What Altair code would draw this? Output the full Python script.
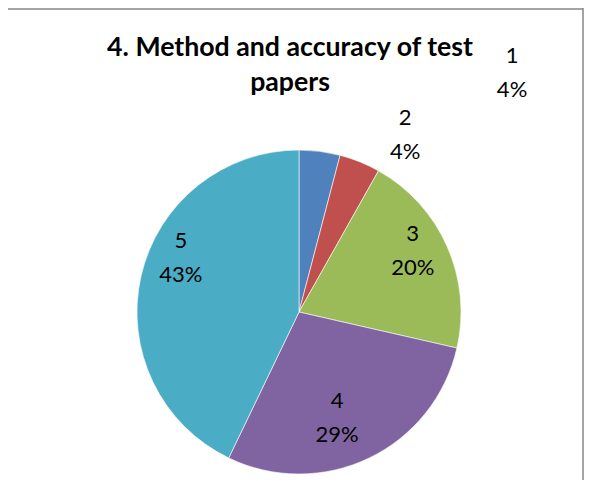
import altair as alt
import pandas as pd

# Data
categories = ["1", "2", "3", "4", "5"]
counts = [2, 2, 10, 14, 21]
colors = ["#4F81BD", "#C0504D", "#9BBB59", "#8064A2", "#4BACC6"]
title_lines = ["4. Method and accuracy of test", "papers"]

# Label layout (Excel "best fit" placement): radius and angle nudge per slice
label_radius = [320, 206, 129, 113, 130]
label_nudge_deg = [34.4, 9.0, -4.3, 6.0, 11.7]

W, H = 576, 472
CX, CY, R = 291, 304, 162
LH = 34

df = pd.DataFrame({
    "cat": categories,
    "count": counts,
    "idx": list(range(len(categories))),
    "lr": label_radius,
    "nudge": label_nudge_deg,
})

base = alt.Chart(df)

pie = base.mark_arc(outerRadius=R, stroke="#ffffff", strokeWidth=0.6).encode(
    theta=alt.Theta("count:Q", stack=True),
    color=alt.Color("cat:N", scale=alt.Scale(domain=categories, range=colors), legend=None),
    order=alt.Order("idx:Q"),
    x=alt.value(CX),
    y=alt.value(CY),
)

labels = base.transform_joinaggregate(
    total="sum(count)"
).transform_window(
    cum="sum(count)", sort=[alt.SortField("idx")], frame=[None, 0]
).transform_calculate(
    mid="(datum.cum - datum.count / 2) / datum.total * 2 * PI + datum.nudge * PI / 180",
    px=f"{CX} + datum.lr * sin(datum.mid)",
    py=f"{CY} - datum.lr * cos(datum.mid)",
    label="datum.cat + '\\n' + round(datum.count / datum.total * 100) + '%'",
).mark_text(
    font="Lato", fontSize=22, lineBreak="\n", lineHeight=LH, dy=-LH / 2,
    align="center", baseline="middle", color="#000000",
).encode(
    x=alt.X("px:Q", scale=None),
    y=alt.Y("py:Q", scale=None),
    text="label:N",
)

title = alt.Chart(alt.Data(values=[{"t": "\n".join(title_lines)}])).mark_text(
    font="Lato", fontSize=26.7, fontWeight="bold", lineBreak="\n", lineHeight=35,
    align="center", baseline="middle", color="#000000",
).encode(
    x=alt.value(282), y=alt.value(40), text="t:N"
)

frame_src = alt.Chart(alt.Data(values=[{}]))
top_border = frame_src.mark_rule(color="#868686", strokeWidth=1.5).encode(
    x=alt.value(0), x2=alt.value(W - 1), y=alt.value(1)
)
right_border = frame_src.mark_rule(color="#868686", strokeWidth=1.5).encode(
    x=alt.value(W - 1), y=alt.value(0), y2=alt.value(H)
)

chart = alt.layer(pie, labels, title, top_border, right_border).properties(
    width=W, height=H, padding=0, autosize=alt.AutoSizeParams(type="none"),
    background="#ffffff",
).configure_view(strokeWidth=0)

chart.save("out.html", embed_options={"renderer": "svg", "actions": False})
